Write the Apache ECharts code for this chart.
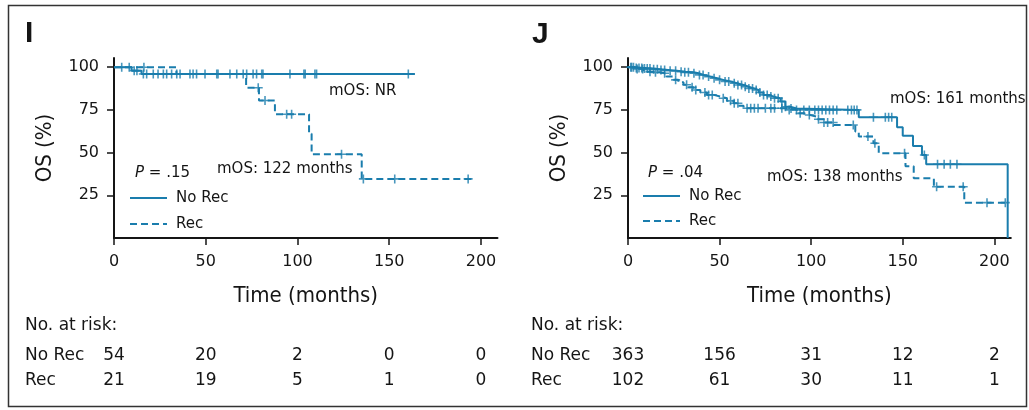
<!DOCTYPE html>
<html>
<head>
<meta charset="utf-8">
<script src="https://cdn.jsdelivr.net/npm/echarts@6/dist/echarts.min.js"></script>
<style>
  html, body { margin: 0; padding: 0; background: #fff; }
  #chart { width: 1029px; height: 410px; }
</style>
</head>
<body>
<div id="chart"></div>
<script>
// axis ticks
const timeTicks = [0, 50, 100, 150, 200];
const survTicks = [25, 50, 75, 100];

// number at risk, read at timeTicks
const riskNoRecI = [54, 20, 2, 0, 0];
const riskRecI = [21, 19, 5, 1, 0];
const riskNoRecJ = [363, 156, 31, 12, 2];
const riskRecJ = [102, 61, 30, 11, 1];

// KM step points [months, OS %] (panel I)
const noRecI = [[0, 100], [9.6, 98], [15, 96], [164, 96]];
const recI = [[0, 100], [34, 96], [72, 88], [79, 80.5], [87.7, 72.5], [106.3, 61], [107.7, 49], [135, 34.6], [196, 34.6]];
// censor times (panel I)
const cNoRecI = [8.3, 11, 12.5, 16, 17.8, 21.4, 24, 26.9, 28.7, 31.4, 34.2, 36, 41.4, 43.1, 45, 49.6, 56, 56.7, 63.2, 66.9,
  70.4, 72.3, 75.8, 77.7, 80.5, 81.2, 95.9, 103.5, 104.2, 109.5, 110.4, 160.4];
const cRecI = [4.2, 16.3, 78.6, 82.3, 94.1, 96.8, 124, 135.9, 153, 193];

// KM step points (panel J)
const noRecJ = [[0, 100], [4, 99.6], [8.5, 99.2], [13, 98.8], [17.6, 98.4], [22, 97.9], [26.7, 97.4], [31, 97], [35.8, 96.5],
  [38.5, 95.5], [41.3, 94.5], [45, 93.5], [48.6, 92.6], [52, 91.6], [55.9, 90.6], [59.5, 89.6], [63.1, 88.6], [66, 87.6],
  [68.6, 86.7], [71.3, 85.2], [74, 83.8], [77, 82.8], [79.5, 81.8], [83.2, 79.9], [85.9, 76.9], [88.6, 75.8], [92, 75],
  [126, 70.7], [146.9, 64.8], [150, 59.8], [155.6, 53.9], [160.5, 48.6], [162.8, 43.2], [207.3, 0]];
const recJ = [[0, 100], [4, 99], [8.5, 97.4], [13, 97], [17.6, 96.5], [21, 94.5], [24.9, 92.6], [27.5, 91.2], [30.3, 89.7],
  [33, 88.2], [35.8, 86.7], [39.5, 85.2], [43.1, 83.8], [46.8, 82.8], [50.4, 81.8], [54, 80.3], [57.7, 78.9], [60.5, 77.4],
  [63.1, 76], [86.8, 75], [92.3, 73], [96, 72], [99.5, 71.1], [103, 69.5], [106.8, 67.6], [112.3, 66.2], [124.1, 62.3],
  [126, 59.4], [134, 55.5], [136.9, 49.6], [151.5, 42], [156, 35], [167, 30], [183.6, 20.7], [207.5, 20.7]];
// censor times (panel J)
const cNoRecJ = [1.5, 3, 4.5, 6, 7.5, 9, 10.5, 12, 14, 16, 18, 20, 23, 26, 29, 31, 33, 36, 39, 41, 44, 47, 50, 53, 55, 58,
  60, 62, 64, 66, 68, 70, 72, 74, 76, 78, 80, 82, 84, 86, 89, 92, 96, 99, 102, 104, 106, 108, 110, 112, 114, 120, 122,
  123.5, 125, 134, 140.5, 142.3, 144, 161.8, 169, 172.6, 176, 179.6];
const cRecJ = [2, 5, 8, 12, 15, 20, 26, 32, 35, 37, 42, 44, 46, 52, 56, 58, 60, 65, 67, 69, 71, 75, 78, 80, 84, 88, 94, 99,
  104, 107, 109, 112, 123, 131, 134.8, 151, 168.5, 183, 196, 206];

const blue = '#1a7dad';
const ink = '#151515';
const dash = [7, 4];
const plus = 'path://M7,0H10V7H17V10H10V17H7V10H0V7H7Z';

// value of the step curve at time t
function survAt(curve, t) {
  let s = curve[0][1];
  for (const p of curve) {
    if (p[0] <= t) s = p[1];
    else break;
  }
  return s;
}

function kmLine(name, data, idx, dashed) {
  return {
    name: name,
    type: 'line',
    step: 'end',
    xAxisIndex: idx,
    yAxisIndex: idx,
    data: data,
    symbol: 'none',
    lineStyle: { color: blue, width: 2, type: dashed ? dash : 'solid' },
    emphasis: { disabled: true },
    z: dashed ? 2 : 3,
  };
}

function censor(name, times, curve, idx) {
  return {
    name: name,
    type: 'scatter',
    xAxisIndex: idx,
    yAxisIndex: idx,
    data: times.map((t) => [t, survAt(curve, t)]),
    symbol: plus,
    symbolSize: 9,
    itemStyle: { color: blue },
    emphasis: { disabled: true },
    z: 4,
  };
}

function xAxisFor(idx) {
  return {
    type: 'value',
    gridIndex: idx,
    min: 0,
    max: 209,
    axisLine: { show: true, onZero: false, lineStyle: { color: ink, width: 2 } },
    axisTick: { show: true, length: 7, customValues: timeTicks, lineStyle: { color: ink, width: 1.5 } },
    axisLabel: { customValues: timeTicks, margin: 16, fontSize: 16, fontFamily: 'DejaVu Sans', color: ink },
    splitLine: { show: false },
    name: 'Time (months)',
    nameLocation: 'middle',
    nameGap: 47,
    nameTextStyle: { fontSize: 22, fontFamily: 'DejaVu Sans Condensed', color: ink },
  };
}

function yAxisFor(idx) {
  return {
    type: 'value',
    gridIndex: idx,
    min: 0,
    max: 105.4,
    axisLine: { show: true, onZero: false, lineStyle: { color: ink, width: 2 } },
    axisTick: { show: true, length: 7, customValues: survTicks, lineStyle: { color: ink, width: 1.5 } },
    axisLabel: { customValues: survTicks, margin: 15, fontSize: 16, fontFamily: 'DejaVu Sans', color: ink },
    splitLine: { show: false },
    name: 'OS (%)',
    nameLocation: 'middle',
    nameGap: 58,
    nameTextStyle: { fontSize: 22, fontFamily: 'DejaVu Sans Condensed', color: ink },
  };
}

const myChart = echarts.init(document.getElementById('chart'));

myChart.setOption({
  animation: false,
  backgroundColor: '#fff',
  grid: [
    { left: 114, top: 58, width: 383.5, height: 180, containLabel: false, outerBoundsMode: 'none' },
    { left: 628, top: 58, width: 382.8, height: 180, containLabel: false, outerBoundsMode: 'none' },
  ],
  xAxis: [xAxisFor(0), xAxisFor(1)],
  yAxis: [yAxisFor(0), yAxisFor(1)],
  series: [
    kmLine('Rec', recI, 0, true),
    kmLine('No Rec', noRecI, 0, false),
    censor('cRecI', cRecI, recI, 0),
    censor('cNoRecI', cNoRecI, noRecI, 0),
    kmLine('Rec', recJ, 1, true),
    kmLine('No Rec', noRecJ, 1, false),
    censor('cRecJ', cRecJ, recJ, 1),
    censor('cNoRecJ', cNoRecJ, noRecJ, 1),
  ],
});

function txt(x, y, text, size, opts) {
  return {
    type: 'text',
    x: x,
    y: y,
    silent: true,
    style: Object.assign({
      text: text,
      fontSize: size,
      fontFamily: 'DejaVu Sans',
      fill: ink,
      align: 'left',
      verticalAlign: 'middle',
    }, opts || {}),
  };
}

function pText(x, y, label) {
  return txt(x, y, '{i|P} = ' + label, 15, {
    rich: { i: { fontStyle: 'italic', fontSize: 15, fontFamily: 'DejaVu Sans', fill: ink } },
  });
}

// legend key: short line sample + label
function key(x, y, label, dashed) {
  return [
    {
      type: 'line',
      silent: true,
      shape: { x1: x, y1: y, x2: x + 37, y2: y },
      style: { stroke: blue, lineWidth: 2, lineDash: dashed ? dash : null },
    },
    txt(x + 46, y, label, 15),
  ];
}

// risk table under each panel, placed on the time axis
function riskTable(idx, rowX, noRec, rec) {
  const out = [
    txt(rowX, 326, 'No. at risk:', 17),
    txt(rowX, 356, 'No Rec', 17),
    txt(rowX, 381, 'Rec', 17),
  ];
  timeTicks.forEach((t, i) => {
    const x = myChart.convertToPixel({ xAxisIndex: idx }, t);
    out.push(txt(x, 356, String(noRec[i]), 17, { align: 'center' }));
    out.push(txt(x, 381, String(rec[i]), 17, { align: 'center' }));
  });
  return out;
}

const graphics = [
  {
    type: 'rect',
    silent: true,
    shape: { x: 8.5, y: 5.5, width: 1018, height: 401 },
    style: { fill: 'none', stroke: '#333', lineWidth: 1.5 },
  },
  txt(25, 34, 'I', 30, { fontFamily: 'Liberation Sans', fontWeight: 'bold' }),
  txt(532, 35, 'J', 30, { fontFamily: 'Liberation Sans', fontWeight: 'bold' }),
  txt(329, 91, 'mOS: NR', 15),
  txt(217, 169, 'mOS: 122 months', 15),
  txt(890, 99, 'mOS: 161 months', 15),
  txt(767, 177, 'mOS: 138 months', 15),
  pText(135, 173, '.15'),
  pText(648, 173, '.04'),
].concat(
  key(130, 198, 'No Rec', false), key(130, 224, 'Rec', true),
  key(643, 196, 'No Rec', false), key(643, 221, 'Rec', true),
  riskTable(0, 25, riskNoRecI, riskRecI), riskTable(1, 531, riskNoRecJ, riskRecJ)
);

myChart.setOption({ graphic: graphics });
</script>
</body>
</html>
